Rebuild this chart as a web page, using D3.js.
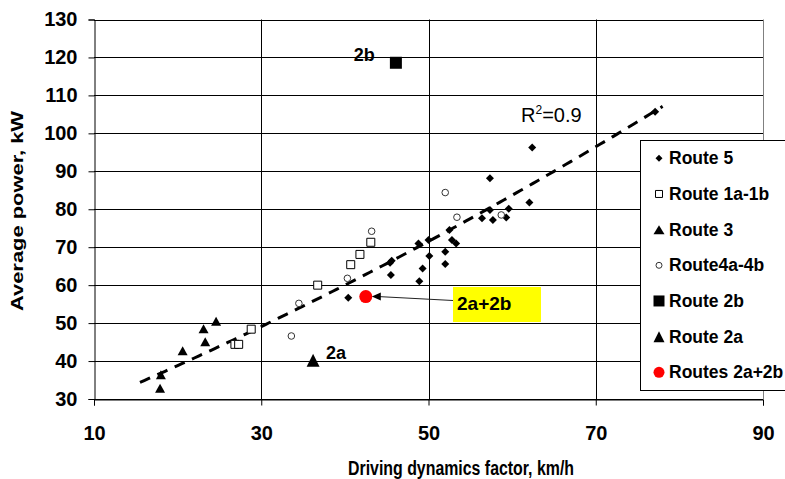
<!DOCTYPE html>
<html lang="en">
<head>
<meta charset="UTF-8" />
<title>Average power vs driving dynamics factor</title>
<script src="https://cdn.jsdelivr.net/npm/d3@7"></script>
<style>
  body { margin: 0; background: #fff; }
  svg { display: block; font-family: 'Liberation Sans', Arial, sans-serif; }
</style>
</head>
<body>
<div id="chart"></div>
<script>
// axis ticks
const xTicks = [10, 30, 50, 70, 90]
const yTicks = [30, 40, 50, 60, 70, 80, 90, 100, 110, 120, 130]

// series
const route5X = [77.1, 62.4, 57.35, 62.06, 59.6, 59.3, 57.7, 57.35, 56.4, 52.5, 52.8, 53.3, 50.0, 48.8, 50.1, 52.0, 52.0, 49.3, 48.9, 45.4, 45.6, 45.5, 40.4]
const route5Y = [105.7, 96.3, 88.2, 81.8, 80.1, 77.8, 77.2, 79.8, 77.6, 74.5, 71.9, 71.0, 71.9, 71.0, 67.7, 68.8, 65.6, 64.4, 61.0, 65.9, 66.4, 62.7, 56.7]
const route1X = [43.1, 41.8, 40.7, 36.75, 28.8, 26.85, 27.3]
const route1Y = [71.3, 68.1, 65.4, 60.0, 48.4, 44.4, 44.4]
const route3X = [24.6, 23.1, 23.3, 20.6, 18.0, 17.9]
const route3Y = [50.5, 48.5, 45.1, 42.7, 36.4, 32.8]
const route4X = [52.0, 53.4, 58.7, 43.2, 40.3, 34.5, 33.6]
const route4Y = [84.4, 77.9, 78.5, 74.2, 61.8, 55.2, 46.6]
const route2bX = [46.1]
const route2bY = [118.6]
const route2aX = [36.2]
const route2aY = [40.2]
const routes2a2bX = [42.5]
const routes2a2bY = [57.0]

// polynomial trend (c0 + c1 x + c2 x^2) and its x range
const trendCoef = [20.06, 0.875, 0.00309]
const trendRange = [15.5, 78.2]

const seriesNames = ['Route 5', 'Route 1a-1b', 'Route 3', 'Route4a-4b', 'Route 2b', 'Route 2a', 'Routes 2a+2b']

const width = 785
const height = 479
const x = d3.scaleLinear().domain([10, 90]).range([94, 763])
const y = d3.scaleLinear().domain([30, 130]).range([399, 19.5])
const crisp = v => Math.round(v) + 0.5

// marker paths
const shapes = {
  diamond: w => `M0,${-w / 2}L${w / 2},0L0,${w / 2}L${-w / 2},0Z`,
  square: w => `M${-w / 2},${-w / 2}h${w}v${w}h${-w}Z`,
  triangle: (w, h) => `M0,${-h / 2}L${w / 2},${h / 2}L${-w / 2},${h / 2}Z`,
  circle: r => `M${r},0A${r},${r} 0 1,1 ${-r},0A${r},${r} 0 1,1 ${r},0Z`
}

const series = [
  { xs: route5X, ys: route5Y, d: shapes.diamond(8), ld: shapes.diamond(7), fill: '#000', stroke: 'none' },
  { xs: route1X, ys: route1Y, d: shapes.square(8), ld: shapes.square(7), fill: '#fff', stroke: '#000' },
  { xs: route3X, ys: route3Y, d: shapes.triangle(10, 9), ld: shapes.triangle(11, 9), fill: '#000', stroke: 'none' },
  { xs: route4X, ys: route4Y, d: shapes.circle(3.3), ld: shapes.circle(3), fill: '#fff', stroke: '#333' },
  { xs: route2bX, ys: route2bY, d: shapes.square(12), ld: shapes.square(11), fill: '#000', stroke: 'none' },
  { xs: route2aX, ys: route2aY, d: shapes.triangle(13, 13), ld: shapes.triangle(11, 11), fill: '#000', stroke: 'none' },
  { xs: routes2a2bX, ys: routes2a2bY, d: shapes.circle(6.5), ld: shapes.circle(5.5), fill: '#ff0000', stroke: 'none' }
]

const svg = d3.select('#chart').append('svg')
  .attr('width', width)
  .attr('height', height)

// grid
const grid = svg.append('g')
grid.selectAll('.hgrid').data(yTicks).join('line')
  .attr('x1', x(10)).attr('x2', x(90))
  .attr('y1', d => crisp(y(d))).attr('y2', d => crisp(y(d)))
  .attr('stroke', '#000')
grid.selectAll('.vgrid').data([30, 50, 70]).join('line')
  .attr('x1', d => crisp(x(d))).attr('x2', d => crisp(x(d)))
  .attr('y1', y(130)).attr('y2', y(30))
  .attr('stroke', '#000')
grid.append('line')
  .attr('x1', crisp(x(90))).attr('x2', crisp(x(90)))
  .attr('y1', y(130)).attr('y2', y(30))
  .attr('stroke', '#808080')

// axes
const xAxis = svg.append('g')
  .attr('transform', `translate(0,${crisp(y(30))})`)
  .call(d3.axisBottom(x).tickValues(xTicks).tickSize(6).tickPadding(20))
const yAxis = svg.append('g')
  .attr('transform', `translate(${crisp(x(10))},0)`)
  .call(d3.axisLeft(y).tickValues(yTicks).tickSize(6).tickPadding(11))
for (const ax of [xAxis, yAxis]) {
  ax.select('.domain').attr('stroke', '#000')
  ax.selectAll('.tick line').attr('stroke', '#000')
  ax.selectAll('.tick text')
    .attr('fill', '#000')
    .style('font-family', "'Liberation Sans', Arial, sans-serif")
    .style('font-size', '20px')
    .style('font-weight', 'bold')
}

// axis titles
svg.append('text')
  .attr('x', 461).attr('y', 475)
  .attr('text-anchor', 'middle')
  .attr('textLength', 226).attr('lengthAdjust', 'spacingAndGlyphs')
  .style('font-size', '20px').style('font-weight', 'bold')
  .text('Driving dynamics factor, km/h')
svg.append('text')
  .attr('transform', 'translate(23,211) rotate(-90)')
  .attr('text-anchor', 'middle')
  .attr('textLength', 200).attr('lengthAdjust', 'spacingAndGlyphs')
  .style('font-size', '17px').style('font-weight', 'bold')
  .text('Average power, kW')

// trend line
const trendY = v => trendCoef[0] + trendCoef[1] * v + trendCoef[2] * v * v
const trendPts = d3.range(trendRange[0], trendRange[1] + 0.01, 0.5)
svg.append('path')
  .datum(trendPts)
  .attr('d', d3.line().x(d => x(d)).y(d => y(trendY(d))))
  .attr('fill', 'none')
  .attr('stroke', '#000')
  .attr('stroke-width', 3)
  .attr('stroke-dasharray', '11,8')

// markers
series.forEach(s => {
  svg.append('g').selectAll('path')
    .data(d3.range(s.xs.length))
    .join('path')
    .attr('transform', i => `translate(${x(s.xs[i])},${y(s.ys[i])})`)
    .attr('d', s.d)
    .attr('fill', s.fill)
    .attr('stroke', s.stroke)
    .attr('stroke-width', 1)
})

// annotations
svg.append('text')
  .attr('x', x(route2bX[0]) - 21).attr('y', y(route2bY[0]) - 2)
  .attr('text-anchor', 'end')
  .style('font-size', '18px').style('font-weight', 'bold')
  .text('2b')
svg.append('text')
  .attr('x', x(route2aX[0]) + 13).attr('y', y(route2aY[0]) - 1)
  .style('font-size', '18px').style('font-weight', 'bold')
  .text('2a')
const r2 = svg.append('text')
  .attr('x', 521).attr('y', 122)
  .style('font-size', '20px')
r2.append('tspan').text('R')
r2.append('tspan').attr('dy', -8).style('font-size', '12px').text('2')
r2.append('tspan').attr('dy', 8).text('=0.9')

// 2a+2b callout
const cx = x(routes2a2bX[0])
const cy = y(routes2a2bY[0])
svg.append('rect')
  .attr('x', 453).attr('y', 287)
  .attr('width', 88).attr('height', 35)
  .attr('fill', '#ffff00')
svg.append('text')
  .attr('x', 457).attr('y', 310)
  .style('font-size', '19px').style('font-weight', 'bold')
  .text('2a+2b')
svg.append('line')
  .attr('x1', 453).attr('y1', 300.5)
  .attr('x2', cx + 12).attr('y2', cy)
  .attr('stroke', '#222').attr('stroke-width', 1)
svg.append('path')
  .attr('d', `M${cx + 6},${cy}L${cx + 15},${cy - 4}L${cx + 15},${cy + 4}Z`)
  .attr('fill', '#000')

// legend
const legend = svg.append('g')
legend.append('rect')
  .attr('x', 640.5).attr('y', 140.5)
  .attr('width', 160).attr('height', 250)
  .attr('fill', '#fff').attr('stroke', '#000')
const rowY = d3.scaleLinear().domain([0, 6]).range([158.3, 372.3])
seriesNames.forEach((name, i) => {
  const s = series[i]
  legend.append('path')
    .attr('transform', `translate(659,${rowY(i)})`)
    .attr('d', s.ld)
    .attr('fill', s.fill)
    .attr('stroke', s.stroke)
  legend.append('text')
    .attr('x', 669).attr('y', rowY(i) + 6)
    .style('font-size', '17.5px').style('font-weight', 'bold')
    .text(name)
})
</script>
</body>
</html>
